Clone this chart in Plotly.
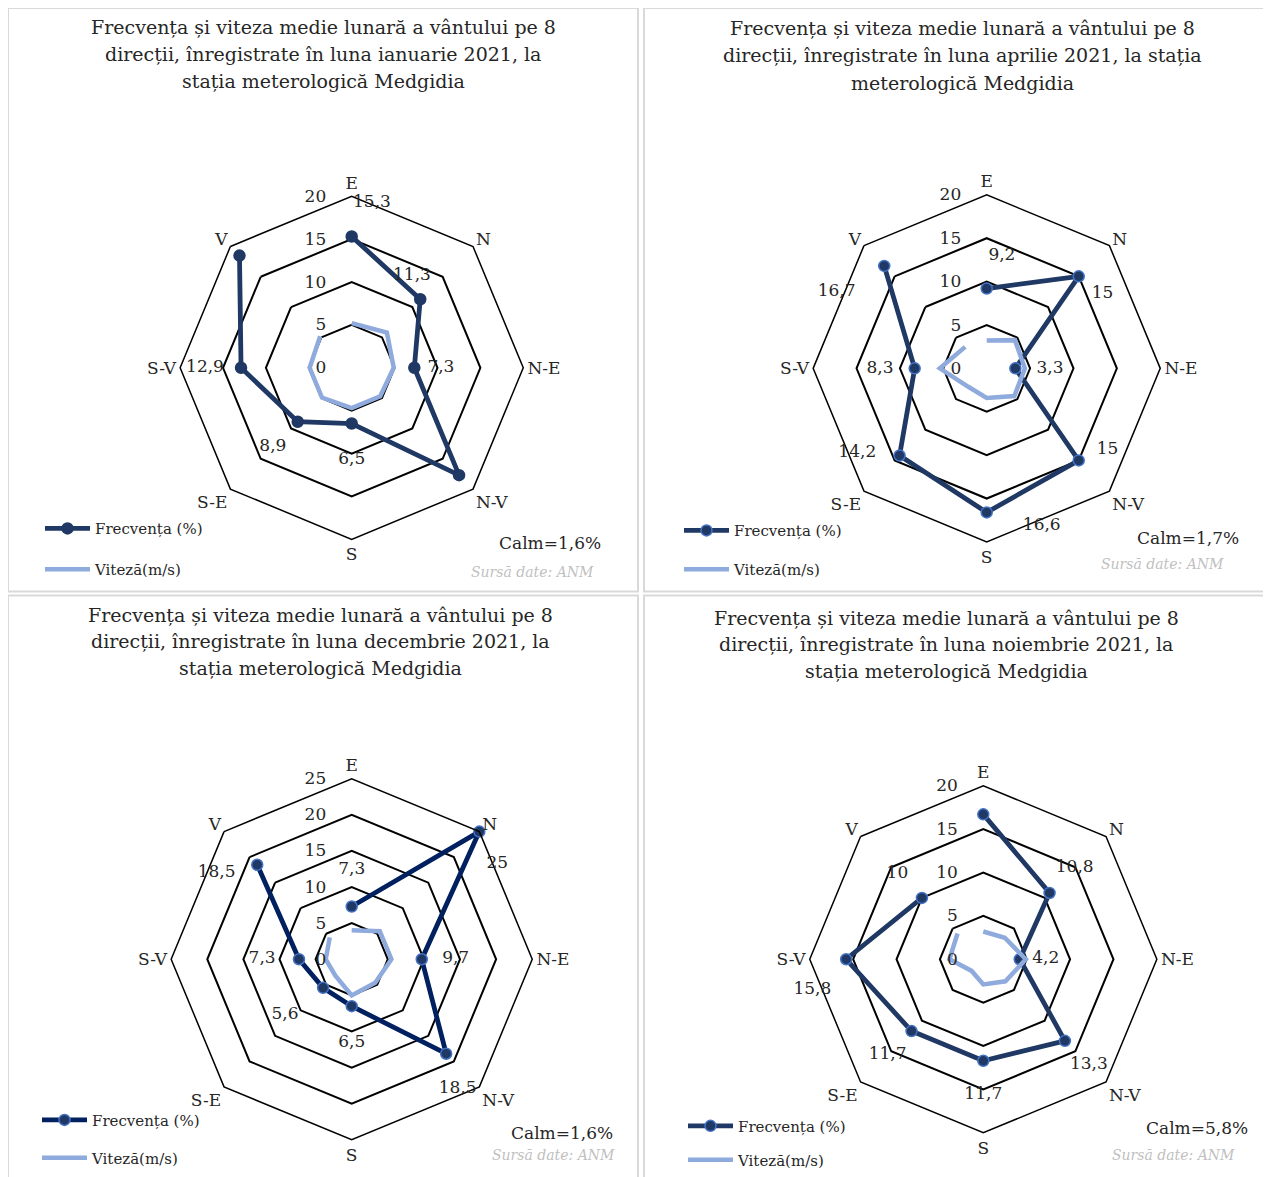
import plotly.graph_objects as go

# page has an 8px body margin; the figure fills the rest of the 1271x1177 window
OFF = 8
W, H = 1271 - OFF, 1177 - OFF

directions = ["E", "N", "N-E", "N-V", "S", "S-E", "S-V", "V"]

freq_ian = [15.3, 11.3, 7.3, 17.7, 6.5, 8.9, 12.9, 18.5]
speed_ian = [5.2, 5.8, 4.9, 4.7, 4.7, 4.9, 4.9, 5.2]

freq_apr = [9.2, 15, 3.3, 15, 16.6, 14.2, 8.3, 16.7]
speed_apr = [3.2, 4.6, 4.4, 4.5, 3.4, 3.0, 5.4, 3.5]

freq_dec = [7.3, 25, 9.7, 18.5, 6.5, 5.6, 7.3, 18.5]
speed_dec = [4.0, 5.5, 5.5, 4.6, 5.0, 3.2, 3.6, 4.3]

freq_nov = [16.7, 10.8, 4.2, 13.3, 11.7, 11.7, 15.8, 10]
speed_nov = [3.2, 3.5, 4.9, 3.6, 2.9, 1.9, 3.9, 4.2]

calm_labels = ["Calm=1,6%", "Calm=1,7%", "Calm=1,6%", "Calm=5,8%"]
source_text = "Sursă date: ANM"
legend_names = ["Frecvența (%)", "Viteză(m/s)"]

titles = [
    ["Frecvența și viteza medie lunară a vântului pe 8",
     "direcții, înregistrate în luna ianuarie 2021, la",
     "stația meterologică Medgidia"],
    ["Frecvența și viteza medie lunară a vântului pe 8",
     "direcții, înregistrate în luna aprilie 2021, la stația",
     "meterologică Medgidia"],
    ["Frecvența și viteza medie lunară a vântului pe 8",
     "direcții, înregistrate în luna decembrie 2021, la",
     "stația meterologică Medgidia"],
    ["Frecvența și viteza medie lunară a vântului pe 8",
     "direcții, înregistrate în luna noiembrie 2021, la",
     "stația meterologică Medgidia"],
]

FONT = "DejaVu Serif"
DARK = "#1f3864"
LIGHT = "#8faadc"
TXT = "#262626"

# layout of each panel (pixel positions in the window) and data-label placement
# (radial shift in axis units, angular shift in degrees, per direction)
panels = [
    dict(freq=freq_ian, speed=speed_ian, rmax=20, cx=351.7, cy=368.7, rad=172,
         line=DARK, mk_line=DARK, title_x=323, title_y=(27, 54, 81),
         calm=(603, 544), src=(596, 573), leg=(40, 530, 571), box=(8, 8, 638, 593),
         lab_dr=[4.1, 1.5, 3.1, 3.5, 4.2, 4.1, 4.2, 2.2],
         lab_dth=[7, -11.7, 0, 9.6, 0, 0, 0, -18.3]),
    dict(freq=freq_apr, speed=speed_apr, rmax=20, cx=986.7, cy=369.3, rad=174,
         line=DARK, mk_line="#4472c4", title_x=962, title_y=(28, 55, 83),
         calm=(1241, 539), src=(1226, 565), leg=(679, 532, 571), box=(644, 8, 1271, 593),
         lab_dr=[3.9, 0.9, 4, 1.8, 2.6, 3.6, 4, 2.7],
         lab_dth=[7.7, 12.1, 0, -11, -19.3, 11.9, 0, -18.1]),
    dict(freq=freq_dec, speed=speed_dec, rmax=25, cx=351.7, cy=961.7, rad=181,
         line="#002060", mk_line="#4472c4", title_x=320, title_y=(617, 643, 670),
         calm=(615, 1136), src=(617, 1158), leg=(37, 1123, 1161), box=(8, 597, 638, 1190),
         lab_dr=[5.1, -0.9, 4.7, 4.7, 5, 6.4, 5.1, 3.7],
         lab_dth=[0, 11.8, 0, 5.8, 0, 5.3, 0, -12.4]),
    dict(freq=freq_nov, speed=speed_nov, rmax=20, cx=983.3, cy=961.7, rad=174,
         line=DARK, mk_line="#4472c4", title_x=946, title_y=(620, 646, 673),
         calm=(1250, 1131), src=(1237, 1158), leg=(683, 1129, 1163), box=(644, 597, 1271, 1190),
         lab_dr=[3.5, 4.1, 3, 3.9, 3.9, 3.9, 4.2, 4],
         lab_dth=[12.7, 0, 0, 0, 0, 0, -10, 0]),
]


def fmt(v):
    return ("%g" % v).replace(".", ",")


def px(x):
    return (x - OFF) / W


def py(y):
    return 1 - (y - OFF) / H


fig = go.Figure()
layout_extra = {}
annotations = []
shapes = []
n = len(panels)

for i, p in enumerate(panels):
    sub = "polar" if i == 0 else f"polar{i + 1}"
    sub_lab = f"polar{i + 1 + n}"
    lg_a = f"legend{2 * i + 1}" if i > 0 else "legend"
    lg_b = f"legend{2 * i + 2}"

    fig.add_trace(go.Scatterpolar(
        r=p["freq"], theta=directions, subplot=sub, mode="lines+markers",
        name=legend_names[0], legend=lg_a,
        line=dict(color=p["line"], width=4.8),
        marker=dict(size=11, color=DARK, line=dict(color=p["mk_line"], width=1.5)),
    ))
    fig.add_trace(go.Scatterpolar(
        r=p["speed"], theta=directions, subplot=sub, mode="lines",
        name=legend_names[1], legend=lg_b,
        line=dict(color=LIGHT, width=4.5),
    ))
    # data labels on an invisible twin polar with a numeric (degree) angular axis
    step = 360 / len(directions)
    fig.add_trace(go.Scatterpolar(
        r=[v + d for v, d in zip(p["freq"], p["lab_dr"])],
        theta=[k * step + d for k, d in enumerate(p["lab_dth"])],
        subplot=sub_lab, mode="text",
        text=[fmt(v) for v in p["freq"]], textposition="middle center",
        textfont=dict(family=FONT, size=17, color=TXT),
        showlegend=False, hoverinfo="skip", cliponaxis=False,
    ))

    dom = dict(x=[px(p["cx"] - p["rad"]), px(p["cx"] + p["rad"])],
               y=[py(p["cy"] + p["rad"]), py(p["cy"] - p["rad"])])
    layout_extra[sub] = dict(
        domain=dom,
        gridshape="linear",
        bgcolor="rgba(0,0,0,0)",
        radialaxis=dict(
            range=[0, p["rmax"]], dtick=5, tick0=0, angle=90, side="counterclockwise",
            showline=False, gridcolor="black", gridwidth=1.5,
            ticks="outside", ticklen=19, tickcolor="rgba(0,0,0,0)",
            tickfont=dict(family=FONT, size=17, color=TXT), tickangle=90,
        ),
        angularaxis=dict(
            categoryorder="array", categoryarray=directions,
            rotation=90, direction="clockwise", showgrid=False,
            showline=True, linecolor="black", linewidth=1.5, ticks="",
            tickfont=dict(family=FONT, size=17, color=TXT),
        ),
    )
    layout_extra[sub_lab] = dict(
        domain=dom,
        bgcolor="rgba(0,0,0,0)",
        radialaxis=dict(range=[0, p["rmax"]], visible=False),
        angularaxis=dict(type="linear", thetaunit="degrees", rotation=90,
                         direction="clockwise", visible=False),
    )

    lx, ly_a, ly_b = p["leg"]
    for name, ly in ((lg_a, ly_a), (lg_b, ly_b)):
        layout_extra[name] = dict(
            x=px(lx), y=py(ly), xanchor="left", yanchor="middle",
            bgcolor="rgba(0,0,0,0)", borderwidth=0, itemwidth=45,
            font=dict(family=FONT, size=15, color=TXT),
        )

    for line_txt, ty in zip(titles[i], p["title_y"]):
        annotations.append(dict(
            text=line_txt, x=px(p["title_x"]), y=py(ty),
            xref="paper", yref="paper", xanchor="center", yanchor="middle",
            showarrow=False, font=dict(family=FONT, size=19, color=TXT),
        ))
    annotations.append(dict(
        text=calm_labels[i], x=px(p["calm"][0]), y=py(p["calm"][1]),
        xref="paper", yref="paper", xanchor="right", yanchor="middle",
        showarrow=False, font=dict(family=FONT, size=17, color=TXT),
    ))
    annotations.append(dict(
        text="<i>" + source_text + "</i>", x=px(p["src"][0]), y=py(p["src"][1]),
        xref="paper", yref="paper", xanchor="right", yanchor="middle",
        showarrow=False, font=dict(family=FONT, size=14, color="#bfbfbf"),
    ))
    bx0, by0, bx1, by1 = p["box"]
    shapes.append(dict(
        type="rect", xref="paper", yref="paper", layer="below",
        x0=px(bx0), x1=px(bx1), y0=py(by1), y1=py(by0),
        line=dict(color="#d9d9d9", width=2), fillcolor="white",
    ))

fig.update_layout(
    width=W, height=H, margin=dict(l=0, r=0, t=0, b=0),
    paper_bgcolor="white", plot_bgcolor="white",
    annotations=annotations, shapes=shapes, showlegend=True,
    **layout_extra,
)

fig.write_html("out.html")
